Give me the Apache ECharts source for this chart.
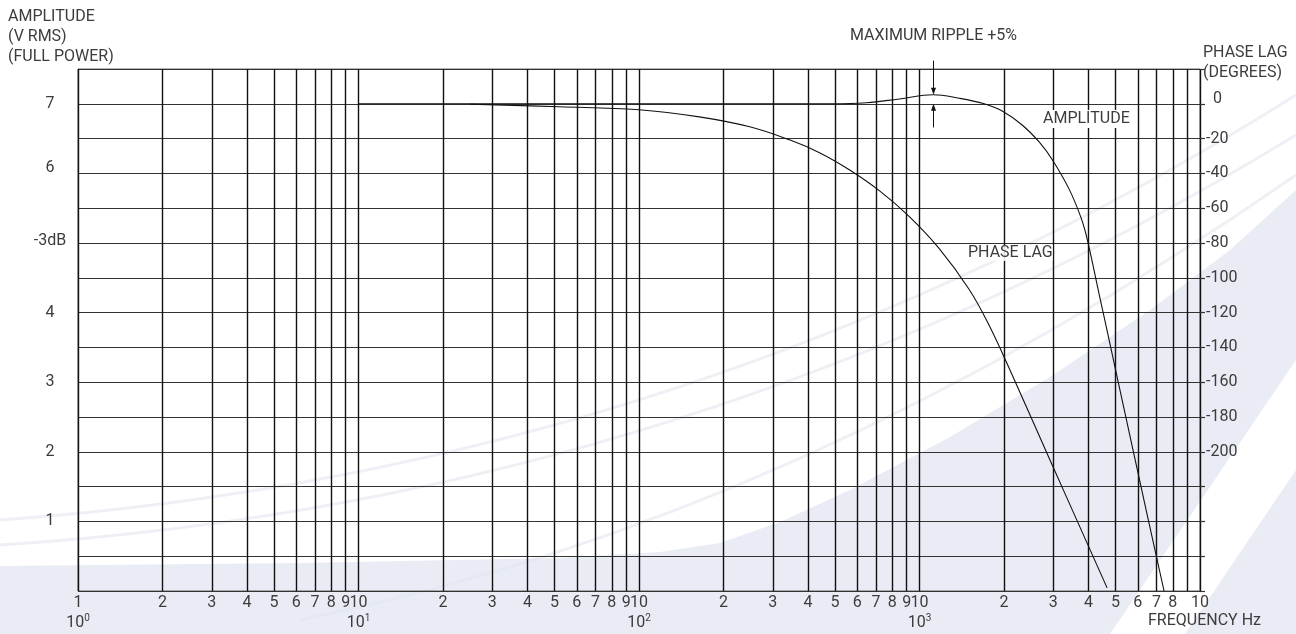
<!DOCTYPE html>
<html><head><meta charset="utf-8">
<script src="https://cdn.jsdelivr.net/npm/echarts@6/dist/echarts.min.js"></script>
<style>html,body{margin:0;padding:0;background:#fff}#c{width:1296px;height:634px}</style>
</head><body><div id="c"></div>
<script>
// ---- data ----
const xTickValues = [1,2,3,4,5,6,7,8,9,10,20,30,40,50,60,70,80,90,100,200,300,400,500,600,700,800,900,1000,2000,3000,4000,5000,6000,7000,8000,9000,10000];
const xTickLabels = ['1\n{n|10}{s|0}','2','3','4','5','6','7','8','9','10\n{n|10}{s|1}','2','3','4','5','6','7','8','9','10\n{n|10}{s|2}','2','3','4','5','6','7','8','9','10\n{n|10}{s|3}','2','3','4','5','6','7','8','9','10'];
const leftTickValues = [1,2,3,4,5,6,7];
const leftTickLabels = ['1','2','3','4','{m|-3dB}','{h|6}','7'];
const rightTickValues = [0,-20,-40,-60,-80,-100,-120,-140,-160,-180,-200];

const ampFreq  = [10, 100, 300, 489, 646, 847, 1119, 1386, 1701, 1971, 2323, 2670, 2971, 3415, 3768, 3959, 4368, 4742, 5145, 5725, 6424, 7445];
const ampValue = [7.0, 7.0, 7.0, 7.0, 7.015, 7.07, 7.13, 7.08, 7.0, 6.897, 6.696, 6.452, 6.2, 5.774, 5.361, 5.059, 4.267, 3.608, 2.948, 2.09, 1.166, 0.0];

const phaseFreq  = [25, 52, 100, 164, 248, 344, 440, 562, 719, 920, 1176, 1504, 1772, 2088, 2900, 4665];
const phaseValue = [-0.3, -1.7, -3.4, -7.5, -13.2, -20.7, -28.1, -37.9, -49.9, -64.8, -83.2, -106.7, -127.4, -152.0, -203.7, -278.2];

const rippleFreq = 1120;
const rippleTop = 7.13, rippleBase = 7.0;

// ---- chart ----
const L = v => Math.log10(v);
const txt = '#3c3c3c';
const chart = echarts.init(document.getElementById('c'), null, {renderer: 'canvas'});

function xLabel(val) {
  for (let i = 0; i < xTickValues.length; i++) {
    if (Math.abs(L(xTickValues[i]) - val) < 1e-6) return xTickLabels[i];
  }
  return '';
}

const bg = '#e9ecf4';
const option = {
  animation: false,
  textStyle: {fontFamily: 'Roboto'},
  grid: {left: 78, right: 96, top: 69, bottom: 43, show: true, borderColor: '#666', borderWidth: 1, backgroundColor: 'transparent'},
  xAxis: {
    type: 'value', min: 0, max: 4,
    axisLine: {show: false},
    axisTick: {show: false, customValues: xTickValues.map(L)},
    splitLine: {show: true, lineStyle: {color: '#111', width: 1.4}},
    axisLabel: {
      customValues: xTickValues.map(L), formatter: xLabel, margin: 2,
      showMinLabel: true, showMaxLabel: true, hideOverlap: false,
      color: txt, fontSize: 16, lineHeight: 20, fontFamily: 'Roboto',
      rich: {
        n: {fontSize: 16, lineHeight: 20, color: txt, fontFamily: 'Roboto'},
        s: {fontSize: 10, lineHeight: 12, verticalAlign: 'top', color: txt, fontFamily: 'Roboto'}
      }
    }
  },
  yAxis: [
    {
      type: 'value', position: 'left', min: 0, max: 7.5, interval: 0.5,
      axisLine: {show: false}, axisTick: {show: false},
      splitLine: {show: true, lineStyle: {color: '#333', width: 1.2}},
      axisLabel: {
        formatter: v => { const i = leftTickValues.indexOf(v); return i < 0 ? '' : leftTickLabels[i]; },
        margin: 28, align: 'center', fontSize: 16, color: txt, fontFamily: 'Roboto',
        rich: {
          h: {fontSize: 16, color: txt, padding: [0, 0, 10, 0], fontFamily: 'Roboto'},
          m: {fontSize: 16, color: txt, padding: [0, 0, 4, 0], fontFamily: 'Roboto'}
        }
      }
    },
    {
      type: 'value', position: 'right', min: -280, max: 20, interval: 20,
      axisLine: {show: false},
      axisTick: {show: true, length: 5, lineStyle: {color: '#333', width: 1.2}},
      splitLine: {show: false},
      axisLabel: {
        formatter: v => rightTickValues.indexOf(v) < 0 ? '' : (v === 0 ? '{z|0}' : String(v)),
        margin: 6, align: 'left', fontSize: 16, color: txt, fontFamily: 'Roboto',
        rich: {z: {fontSize: 16, color: txt, padding: [0, 0, 10, 7], fontFamily: 'Roboto'}}
      }
    }
  ],
  series: [
    {
      name: 'AMPLITUDE', type: 'line', yAxisIndex: 0, silent: true, z: 5,
      data: ampFreq.map((f, i) => [L(f), ampValue[i]]),
      smooth: 0.4, symbol: 'none',
      lineStyle: {color: '#111', width: 1.1}
    },
    {
      name: 'PHASE LAG', type: 'line', yAxisIndex: 1, silent: true, z: 5,
      data: phaseFreq.map((f, i) => [L(f), phaseValue[i]]),
      smooth: 0.4, symbol: 'none',
      lineStyle: {color: '#111', width: 1.1}
    }
  ]
};
chart.setOption(option);

// ---- annotations (positions derived from the axes) ----
const pTop  = chart.convertToPixel({gridIndex: 0}, [L(rippleFreq), 7.62]);
const pPeak = chart.convertToPixel({gridIndex: 0}, [L(rippleFreq), rippleTop]);
const pLow  = chart.convertToPixel({gridIndex: 0}, [L(rippleFreq), 6.66]);
const pBase = chart.convertToPixel({gridIndex: 0}, [L(rippleFreq), rippleBase]);
const ax = Math.round(pTop[0]) + 0.5;

const arcs = [];
// faint decorative arcs on the background
[[0, 520, 700, 470, 1296, 95], [0, 545, 700, 500, 1296, 135], [300, 620, 800, 520, 1296, 175]].forEach(a => {
  arcs.push({type: 'bezierCurve', z: -8, silent: true, shape: {x1: a[0], y1: a[1], cpx1: a[2], cpy1: a[3], x2: a[4], y2: a[5]}, style: {stroke: 'rgba(226,230,240,0.6)', lineWidth: 3, fill: null}});
});

chart.setOption({
  graphic: {elements: [
    {type: 'polygon', z: -10, silent: true,
      shape: {points: [[0,566],[300,563],[560,558],[660,552],[720,543],[780,522],[850,490],[950,437],[1050,377],[1150,310],[1230,250],[1296,190],[1296,634],[0,634]]},
      style: {fill: bg}},
    {type: 'polygon', z: -9, silent: true, shape: {points: [[1110,634],[1296,360],[1296,470],[1185,634]]}, style: {fill: '#fff'}},
    ...arcs,
    {type: 'text', z: 20, left: 8, top: 7, style: {text: 'AMPLITUDE\n(V RMS)\n(FULL POWER)', font: '16px Roboto', fill: txt, lineHeight: 20}},
    {type: 'text', z: 20, left: 1203, top: 43, style: {text: 'PHASE LAG\n(DEGREES)', font: '16px Roboto', fill: txt, lineHeight: 20}},
    {type: 'text', z: 20, left: 850, top: 28, style: {text: 'MAXIMUM RIPPLE +5%', font: '16px Roboto', fill: txt}},
    {type: 'text', z: 20, left: 1148, top: 613, style: {text: 'FREQUENCY Hz', font: '16px Roboto', fill: txt}},
    {type: 'text', z: 20, left: 1041, top: 110, style: {text: 'AMPLITUDE', font: '16px Roboto', fill: txt, backgroundColor: '#fff', padding: [1, 2, 1, 2]}},
    {type: 'text', z: 20, left: 968, top: 245, style: {text: 'PHASE LAG', font: '16px Roboto', fill: txt, backgroundColor: 'rgba(255,255,255,0.85)'}},
    {type: 'line', z: 20, shape: {x1: ax, y1: pTop[1], x2: ax, y2: pPeak[1] - 6}, style: {stroke: '#111', lineWidth: 1}},
    {type: 'polygon', z: 20, shape: {points: [[ax - 2.5, pPeak[1] - 7], [ax + 2.5, pPeak[1] - 7], [ax, pPeak[1]]]}, style: {fill: '#111'}},
    {type: 'line', z: 20, shape: {x1: ax, y1: pLow[1], x2: ax, y2: pBase[1] + 6}, style: {stroke: '#111', lineWidth: 1}},
    {type: 'polygon', z: 20, shape: {points: [[ax - 2.5, pBase[1] + 7], [ax + 2.5, pBase[1] + 7], [ax, pBase[1]]]}, style: {fill: '#111'}}
  ]}
});
</script>
</body></html>
